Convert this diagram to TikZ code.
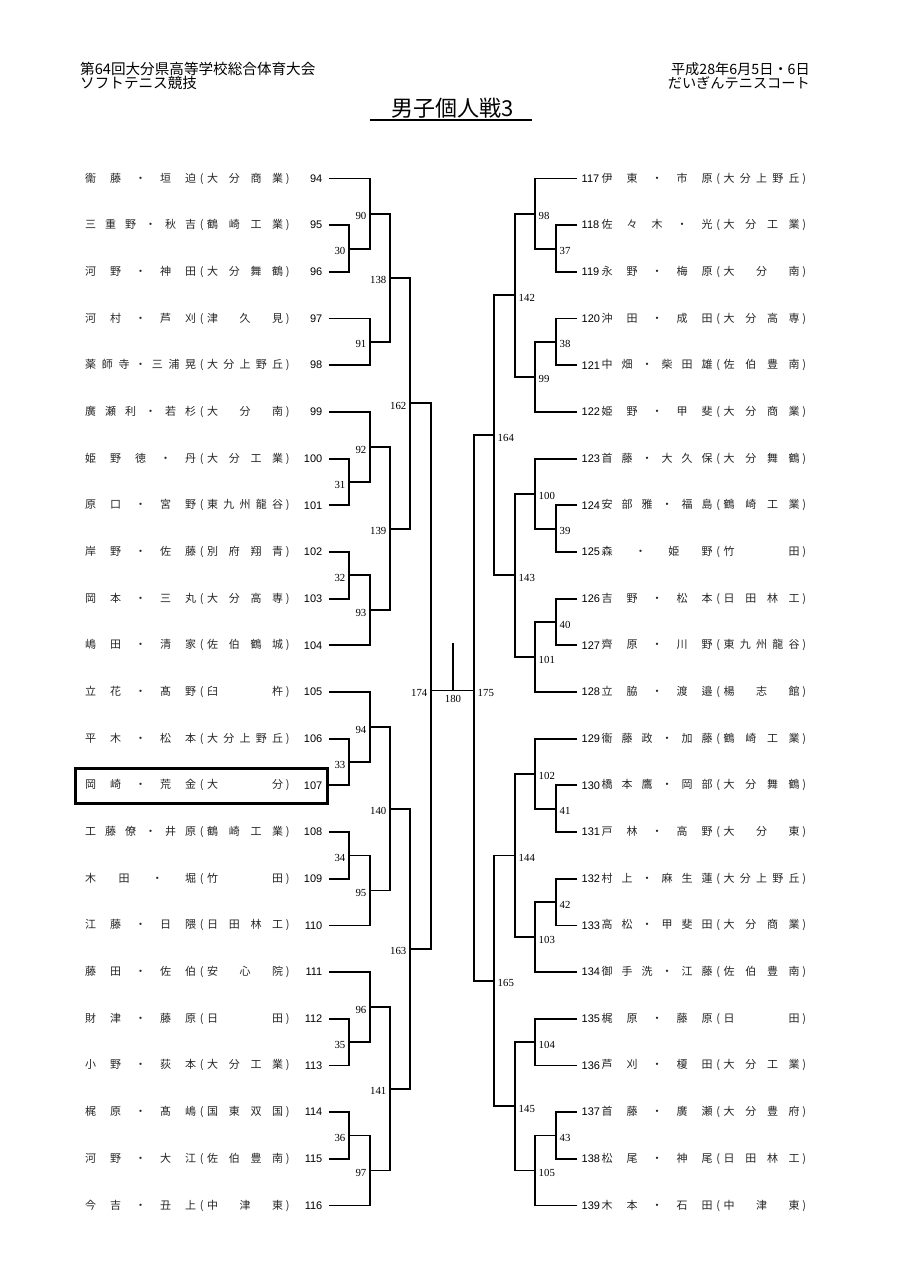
\documentclass[tikz,border=0pt]{standalone}
\usepackage{fontspec}
\setmainfont{Liberation Serif}
\newfontfamily\jpfont{Noto Sans CJK JP}
\newfontfamily\numfont{Liberation Sans}
\makeatletter
% 均等割付：文字の間に \hfill を挟む
\newcommand\spreadbox[2]{\makebox[#1][s]{\let\sp@gap\relax\@tfor\sp@ch:=#2\do{\sp@gap\sp@ch\let\sp@gap\hfill}}}
\makeatother
% 選手欄＝氏名（均等）＋（学校名・均等）
\newcommand\plent[2]{\spreadbox{111pt}{#1}\makebox[11pt]{(}\spreadbox{76pt}{#2}\makebox[9pt]{)}}

\begin{document}
\begin{tikzpicture}[x=1pt,y=-1pt,line cap=butt,line join=miter,
    br/.style={line width=1.8pt},
    nm/.style={inner sep=0pt,font=\jpfont\fontsize{11}{13}\selectfont,text=black!85},
    noL/.style={anchor=east,inner xsep=6pt,inner ysep=0pt,font=\numfont\fontsize{11}{13}\selectfont},
    noR/.style={anchor=west,inner xsep=4.5pt,inner ysep=0pt,font=\numfont\fontsize{11}{13}\selectfont},
    mtL/.style={anchor=east,inner sep=0pt,xshift=-3.5pt,yshift=-2.5pt,font=\fontsize{10.8}{12}\selectfont},
    mtR/.style={anchor=west,inner sep=0pt,xshift=3.5pt,yshift=-2.5pt,font=\fontsize{10.8}{12}\selectfont},
    hd/.style={inner sep=0pt,font=\jpfont\fontsize{14.2}{16}\selectfont}]
  \path[use as bounding box,fill=white] (0,0) rectangle (907,1284);   % 画布 907×1284 px（y 向下）
  % ---- 表头 ----
  \node[hd,anchor=west,font=\jpfont\fontsize{14.6}{16}\selectfont] (hdL1) at (80,69) {第64回大分県高等学校総合体育大会};
  \node[hd,anchor=west,font=\jpfont\fontsize{14.6}{16}\selectfont] (hdL2) at (80,82.5) {ソフトテニス競技};
  \node[hd,anchor=east] (hdR1) at (810,69) {平成28年6月5日・6日};
  \node[hd,anchor=east] (hdR2) at (810,82.5) {だいぎんテニスコート};
  \node[inner sep=0pt,font=\jpfont\fontsize{22}{26}\selectfont] (title) at (452.5,108) {男子個人戦3};
  \coordinate (ulA) at (370,120);
  \coordinate (ulB) at (532,120);
  \draw[line width=1.5pt] (ulA) -- (ulB);   % 标题下划线
  % ---- 左侧选手（行距 46.68 px，首行 y=178.5） ----
  \node[nm,anchor=west] (a94)  at (85,178.5)  {\plent{衞藤・垣迫}{大分商業}};
  \node[noL] (n94)  at (328.5,178.5)  {94};
  \node[nm,anchor=west] (a95)  at (85,225.2)  {\plent{三重野・秋吉}{鶴崎工業}};
  \node[noL] (n95)  at (328.5,225.2)  {95};
  \node[nm,anchor=west] (a96)  at (85,271.9)  {\plent{河野・神田}{大分舞鶴}};
  \node[noL] (n96)  at (328.5,271.9)  {96};
  \node[nm,anchor=west] (a97)  at (85,318.5)  {\plent{河村・芦刈}{津久見}};
  \node[noL] (n97)  at (328.5,318.5)  {97};
  \node[nm,anchor=west] (a98)  at (85,365.2)  {\plent{薬師寺・三浦晃}{大分上野丘}};
  \node[noL] (n98)  at (328.5,365.2)  {98};
  \node[nm,anchor=west] (a99)  at (85,411.9)  {\plent{廣瀬利・若杉}{大分南}};
  \node[noL] (n99)  at (328.5,411.9)  {99};
  \node[nm,anchor=west] (a100) at (85,458.6)  {\plent{姫野徳・丹}{大分工業}};
  \node[noL] (n100) at (328.5,458.6)  {100};
  \node[nm,anchor=west] (a101) at (85,505.3)  {\plent{原口・宮野}{東九州龍谷}};
  \node[noL] (n101) at (328.5,505.3)  {101};
  \node[nm,anchor=west] (a102) at (85,551.9)  {\plent{岸野・佐藤}{別府翔青}};
  \node[noL] (n102) at (328.5,551.9)  {102};
  \node[nm,anchor=west] (a103) at (85,598.6)  {\plent{岡本・三丸}{大分高専}};
  \node[noL] (n103) at (328.5,598.6)  {103};
  \node[nm,anchor=west] (a104) at (85,645.3)  {\plent{嶋田・清家}{佐伯鶴城}};
  \node[noL] (n104) at (328.5,645.3)  {104};
  \node[nm,anchor=west] (a105) at (85,692.0)  {\plent{立花・髙野}{臼杵}};
  \node[noL] (n105) at (328.5,692.0)  {105};
  \node[nm,anchor=west] (a106) at (85,738.7)  {\plent{平木・松本}{大分上野丘}};
  \node[noL] (n106) at (328.5,738.7)  {106};
  \node[nm,anchor=west] (a107) at (85,785.3)  {\plent{岡崎・荒金}{大分}};
  \node[noL] (n107) at (328.5,785.3)  {107};
  \node[nm,anchor=west] (a108) at (85,832.0)  {\plent{工藤僚・井原}{鶴崎工業}};
  \node[noL] (n108) at (328.5,832.0)  {108};
  \node[nm,anchor=west] (a109) at (85,878.7)  {\plent{木田・堀}{竹田}};
  \node[noL] (n109) at (328.5,878.7)  {109};
  \node[nm,anchor=west] (a110) at (85,925.4)  {\plent{江藤・日隈}{日田林工}};
  \node[noL] (n110) at (328.5,925.4)  {110};
  \node[nm,anchor=west] (a111) at (85,972.1)  {\plent{藤田・佐伯}{安心院}};
  \node[noL] (n111) at (328.5,972.1)  {111};
  \node[nm,anchor=west] (a112) at (85,1018.7) {\plent{財津・藤原}{日田}};
  \node[noL] (n112) at (328.5,1018.7) {112};
  \node[nm,anchor=west] (a113) at (85,1065.4) {\plent{小野・荻本}{大分工業}};
  \node[noL] (n113) at (328.5,1065.4) {113};
  \node[nm,anchor=west] (a114) at (85,1112.1) {\plent{梶原・髙嶋}{国東双国}};
  \node[noL] (n114) at (328.5,1112.1) {114};
  \node[nm,anchor=west] (a115) at (85,1158.8) {\plent{河野・大江}{佐伯豊南}};
  \node[noL] (n115) at (328.5,1158.8) {115};
  \node[nm,anchor=west] (a116) at (85,1205.5) {\plent{今吉・丑上}{中津東}};
  \node[noL] (n116) at (328.5,1205.5) {116};
  % 107 の太枠
  \coordinate (bx1) at (75,768);
  \coordinate (bx2) at (327,803);
  \draw[line width=3pt] (bx1) rectangle (bx2);
  % ---- 右侧选手 ----
  \node[noR] (n117) at (577,178.5)  {117};
  \node[nm,anchor=west] (a117) at (601.5,178.5)  {\plent{伊東・市原}{大分上野丘}};
  \node[noR] (n118) at (577,225.2)  {118};
  \node[nm,anchor=west] (a118) at (601.5,225.2)  {\plent{佐々木・光}{大分工業}};
  \node[noR] (n119) at (577,271.9)  {119};
  \node[nm,anchor=west] (a119) at (601.5,271.9)  {\plent{永野・梅原}{大分南}};
  \node[noR] (n120) at (577,318.5)  {120};
  \node[nm,anchor=west] (a120) at (601.5,318.5)  {\plent{沖田・成田}{大分高専}};
  \node[noR] (n121) at (577,365.2)  {121};
  \node[nm,anchor=west] (a121) at (601.5,365.2)  {\plent{中畑・柴田雄}{佐伯豊南}};
  \node[noR] (n122) at (577,411.9)  {122};
  \node[nm,anchor=west] (a122) at (601.5,411.9)  {\plent{姫野・甲斐}{大分商業}};
  \node[noR] (n123) at (577,458.6)  {123};
  \node[nm,anchor=west] (a123) at (601.5,458.6)  {\plent{首藤・大久保}{大分舞鶴}};
  \node[noR] (n124) at (577,505.3)  {124};
  \node[nm,anchor=west] (a124) at (601.5,505.3)  {\plent{安部雅・福島}{鶴崎工業}};
  \node[noR] (n125) at (577,551.9)  {125};
  \node[nm,anchor=west] (a125) at (601.5,551.9)  {\plent{森・姫野}{竹田}};
  \node[noR] (n126) at (577,598.6)  {126};
  \node[nm,anchor=west] (a126) at (601.5,598.6)  {\plent{吉野・松本}{日田林工}};
  \node[noR] (n127) at (577,645.3)  {127};
  \node[nm,anchor=west] (a127) at (601.5,645.3)  {\plent{齊原・川野}{東九州龍谷}};
  \node[noR] (n128) at (577,692.0)  {128};
  \node[nm,anchor=west] (a128) at (601.5,692.0)  {\plent{立脇・渡邉}{楊志館}};
  \node[noR] (n129) at (577,738.7)  {129};
  \node[nm,anchor=west] (a129) at (601.5,738.7)  {\plent{衞藤政・加藤}{鶴崎工業}};
  \node[noR] (n130) at (577,785.3)  {130};
  \node[nm,anchor=west] (a130) at (601.5,785.3)  {\plent{橋本鷹・岡部}{大分舞鶴}};
  \node[noR] (n131) at (577,832.0)  {131};
  \node[nm,anchor=west] (a131) at (601.5,832.0)  {\plent{戸林・高野}{大分東}};
  \node[noR] (n132) at (577,878.7)  {132};
  \node[nm,anchor=west] (a132) at (601.5,878.7)  {\plent{村上・麻生蓮}{大分上野丘}};
  \node[noR] (n133) at (577,925.4)  {133};
  \node[nm,anchor=west] (a133) at (601.5,925.4)  {\plent{高松・甲斐田}{大分商業}};
  \node[noR] (n134) at (577,972.1)  {134};
  \node[nm,anchor=west] (a134) at (601.5,972.1)  {\plent{御手洗・江藤}{佐伯豊南}};
  \node[noR] (n135) at (577,1018.7) {135};
  \node[nm,anchor=west] (a135) at (601.5,1018.7) {\plent{梶原・藤原}{日田}};
  \node[noR] (n136) at (577,1065.4) {136};
  \node[nm,anchor=west] (a136) at (601.5,1065.4) {\plent{芦刈・榎田}{大分工業}};
  \node[noR] (n137) at (577,1112.1) {137};
  \node[nm,anchor=west] (a137) at (601.5,1112.1) {\plent{首藤・廣瀬}{大分豊府}};
  \node[noR] (n138) at (577,1158.8) {138};
  \node[nm,anchor=west] (a138) at (601.5,1158.8) {\plent{松尾・神尾}{日田林工}};
  \node[noR] (n139) at (577,1205.5) {139};
  \node[nm,anchor=west] (a139) at (601.5,1205.5) {\plent{木本・石田}{中津東}};
  % ---- 左侧对战点（列 x：349/370/390/410/431；y＝两子点中点） ----
  \coordinate (m30)  at (349,248.6);
  \coordinate (m90)  at (370,213.6);
  \coordinate (m91)  at (370,341.9);
  \coordinate (m138) at (390,277.7);
  \coordinate (m31)  at (349,482.0);
  \coordinate (m92)  at (370,447.0);
  \coordinate (m32)  at (349,575.3);
  \coordinate (m93)  at (370,610.3);
  \coordinate (m139) at (390,528.7);
  \coordinate (m162) at (410,403.2);
  \coordinate (m33)  at (349,762.0);
  \coordinate (m94)  at (370,727.0);
  \coordinate (m34)  at (349,855.4);
  \coordinate (m95)  at (370,890.4);
  \coordinate (m140) at (390,808.7);
  \coordinate (m35)  at (349,1042.1);
  \coordinate (m96)  at (370,1007.1);
  \coordinate (m36)  at (349,1135.5);
  \coordinate (m97)  at (370,1170.5);
  \coordinate (m141) at (390,1088.8);
  \coordinate (m163) at (410,948.8);
  \coordinate (m174) at (431,690.5);
  % ---- 右侧对战点（列 x：556/535/515/494/474） ----
  \coordinate (m37)  at (556,248.6);
  \coordinate (m98)  at (535,213.6);
  \coordinate (m38)  at (556,341.9);
  \coordinate (m99)  at (535,376.9);
  \coordinate (m142) at (515,295.3);
  \coordinate (m39)  at (556,528.6);
  \coordinate (m100) at (535,493.6);
  \coordinate (m40)  at (556,622.0);
  \coordinate (m101) at (535,657.0);
  \coordinate (m143) at (515,575.3);
  \coordinate (m164) at (494,435.3);
  \coordinate (m41)  at (556,808.7);
  \coordinate (m102) at (535,773.7);
  \coordinate (m42)  at (556,902.1);
  \coordinate (m103) at (535,937.1);
  \coordinate (m144) at (515,855.4);
  \coordinate (m104) at (535,1042.1);
  \coordinate (m43)  at (556,1135.5);
  \coordinate (m105) at (535,1170.5);
  \coordinate (m145) at (515,1106.3);
  \coordinate (m165) at (494,980.9);
  \coordinate (m175) at (474,690.5);
  \coordinate (m180) at (453,690.5);
  \coordinate (m180t) at (453,643);
  % ---- 左侧连线 ----
  \draw[br] (n95.east) -| (m30);   \draw[br] (n96.east) -| (m30);
  \draw[br] (n94.east) -| (m90);   \draw[br] (m30) -| (m90);
  \draw[br] (n97.east) -| (m91);   \draw[br] (n98.east) -| (m91);
  \draw[br] (m90) -| (m138);       \draw[br] (m91) -| (m138);
  \draw[br] (n100.east) -| (m31);  \draw[br] (n101.east) -| (m31);
  \draw[br] (n99.east) -| (m92);   \draw[br] (m31) -| (m92);
  \draw[br] (n102.east) -| (m32);  \draw[br] (n103.east) -| (m32);
  \draw[br] (m32) -| (m93);        \draw[br] (n104.east) -| (m93);
  \draw[br] (m92) -| (m139);       \draw[br] (m93) -| (m139);
  \draw[br] (m138) -| (m162);      \draw[br] (m139) -| (m162);
  \draw[br] (n106.east) -| (m33);  \draw[br] (n107.east) -| (m33);
  \draw[br] (n105.east) -| (m94);  \draw[br] (m33) -| (m94);
  \draw[br] (n108.east) -| (m34);  \draw[br] (n109.east) -| (m34);
  \draw[br] (m34) -| (m95);        \draw[br] (n110.east) -| (m95);
  \draw[br] (m94) -| (m140);       \draw[br] (m95) -| (m140);
  \draw[br] (n112.east) -| (m35);  \draw[br] (n113.east) -| (m35);
  \draw[br] (n111.east) -| (m96);  \draw[br] (m35) -| (m96);
  \draw[br] (n114.east) -| (m36);  \draw[br] (n115.east) -| (m36);
  \draw[br] (m36) -| (m97);        \draw[br] (n116.east) -| (m97);
  \draw[br] (m96) -| (m141);       \draw[br] (m97) -| (m141);
  \draw[br] (m140) -| (m163);      \draw[br] (m141) -| (m163);
  \draw[br] (m162) -| (m174);      \draw[br] (m163) -| (m174);
  % ---- 右侧连线 ----
  \draw[br] (n118.west) -| (m37);  \draw[br] (n119.west) -| (m37);
  \draw[br] (n117.west) -| (m98);  \draw[br] (m37) -| (m98);
  \draw[br] (n120.west) -| (m38);  \draw[br] (n121.west) -| (m38);
  \draw[br] (m38) -| (m99);        \draw[br] (n122.west) -| (m99);
  \draw[br] (m98) -| (m142);       \draw[br] (m99) -| (m142);
  \draw[br] (n124.west) -| (m39);  \draw[br] (n125.west) -| (m39);
  \draw[br] (n123.west) -| (m100); \draw[br] (m39) -| (m100);
  \draw[br] (n126.west) -| (m40);  \draw[br] (n127.west) -| (m40);
  \draw[br] (m40) -| (m101);       \draw[br] (n128.west) -| (m101);
  \draw[br] (m100) -| (m143);      \draw[br] (m101) -| (m143);
  \draw[br] (m142) -| (m164);      \draw[br] (m143) -| (m164);
  \draw[br] (n130.west) -| (m41);  \draw[br] (n131.west) -| (m41);
  \draw[br] (n129.west) -| (m102); \draw[br] (m41) -| (m102);
  \draw[br] (n132.west) -| (m42);  \draw[br] (n133.west) -| (m42);
  \draw[br] (m42) -| (m103);       \draw[br] (n134.west) -| (m103);
  \draw[br] (m102) -| (m144);      \draw[br] (m103) -| (m144);
  \draw[br] (n135.west) -| (m104); \draw[br] (n136.west) -| (m104);
  \draw[br] (n137.west) -| (m43);  \draw[br] (n138.west) -| (m43);
  \draw[br] (m43) -| (m105);       \draw[br] (n139.west) -| (m105);
  \draw[br] (m104) -| (m145);      \draw[br] (m105) -| (m145);
  \draw[br] (m144) -| (m165);      \draw[br] (m145) -| (m165);
  \draw[br] (m164) -| (m175);      \draw[br] (m165) -| (m175);
  % ---- 决赛 ----
  \draw[br] (m174) -- (m175);
  \draw[br] (m180t) -- (m180);
  % ---- 对战编号 ----
  \node[mtL] (l30)  at (m30)  {30};
  \node[mtL] (l90)  at (m90)  {90};
  \node[mtL] (l91)  at (m91)  {91};
  \node[mtL] (l138) at (m138) {138};
  \node[mtL] (l31)  at (m31)  {31};
  \node[mtL] (l92)  at (m92)  {92};
  \node[mtL] (l32)  at (m32)  {32};
  \node[mtL] (l93)  at (m93)  {93};
  \node[mtL] (l139) at (m139) {139};
  \node[mtL] (l162) at (m162) {162};
  \node[mtL] (l33)  at (m33)  {33};
  \node[mtL] (l94)  at (m94)  {94};
  \node[mtL] (l34)  at (m34)  {34};
  \node[mtL] (l95)  at (m95)  {95};
  \node[mtL] (l140) at (m140) {140};
  \node[mtL] (l35)  at (m35)  {35};
  \node[mtL] (l96)  at (m96)  {96};
  \node[mtL] (l36)  at (m36)  {36};
  \node[mtL] (l97)  at (m97)  {97};
  \node[mtL] (l141) at (m141) {141};
  \node[mtL] (l163) at (m163) {163};
  \node[mtL] (l174) at (m174) {174};
  \node[mtR] (l37)  at (m37)  {37};
  \node[mtR] (l98)  at (m98)  {98};
  \node[mtR] (l38)  at (m38)  {38};
  \node[mtR] (l99)  at (m99)  {99};
  \node[mtR] (l142) at (m142) {142};
  \node[mtR] (l39)  at (m39)  {39};
  \node[mtR] (l100) at (m100) {100};
  \node[mtR] (l40)  at (m40)  {40};
  \node[mtR] (l101) at (m101) {101};
  \node[mtR] (l143) at (m143) {143};
  \node[mtR] (l164) at (m164) {164};
  \node[mtR] (l41)  at (m41)  {41};
  \node[mtR] (l102) at (m102) {102};
  \node[mtR] (l42)  at (m42)  {42};
  \node[mtR] (l103) at (m103) {103};
  \node[mtR] (l144) at (m144) {144};
  \node[mtR] (l104) at (m104) {104};
  \node[mtR] (l43)  at (m43)  {43};
  \node[mtR] (l105) at (m105) {105};
  \node[mtR] (l145) at (m145) {145};
  \node[mtR] (l165) at (m165) {165};
  \node[mtR] (l175) at (m175) {175};
  \node[anchor=north,inner sep=0pt,yshift=-5pt,font=\fontsize{10.8}{12}\selectfont] (l180) at (m180) {180};
\end{tikzpicture}
\end{document}
